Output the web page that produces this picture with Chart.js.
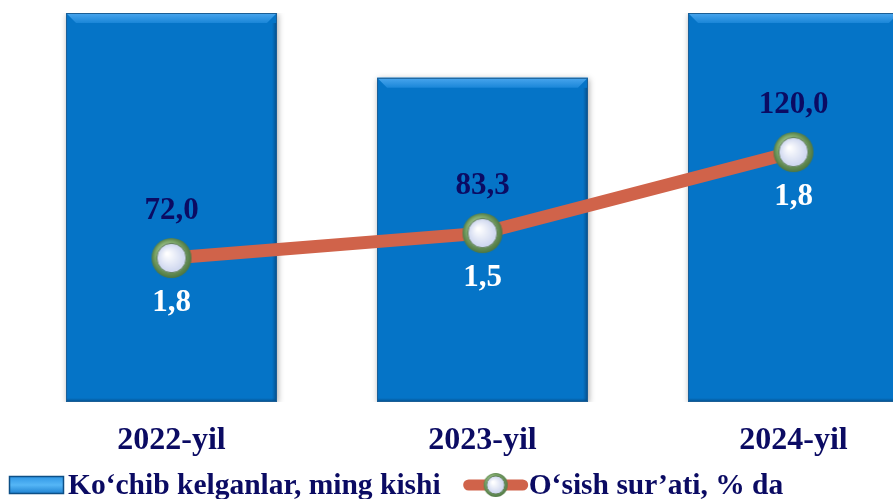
<!DOCTYPE html>
<html>
<head>
<meta charset="utf-8">
<script src="https://cdn.jsdelivr.net/npm/chart.js@4.4.1/dist/chart.umd.min.js"></script>
<style>
    html, body { margin: 0; padding: 0; background: #fff; overflow: hidden; }
    #wrap { width: 960px; height: 499px; }
</style>
</head>
<body>
<div id="wrap"><canvas id="myChart" width="960" height="499"></canvas></div>
<script>
var years = ['2022-yil', '2023-yil', '2024-yil'];
var migrants = [1.8, 1.5, 1.8];
var growth = [72.0, 83.3, 120.0];
var seriesNames = ['Ko‘chib kelganlar, ming kishi', 'O‘sish sur’ati, % da'];

var navy = '#0b0b63';
var barBlue = '#0574c7';
var lineRed = '#d0634a';
var serif = "'Liberation Serif', 'Times New Roman', serif";

function fmt(v) {
    return v.toFixed(1).replace('.', ',');
}

function makeMarker(size) {
    var c = document.createElement('canvas');
    c.width = c.height = size;
    var g = c.getContext('2d');
    var r = size / 2;
    var grad = g.createRadialGradient(r * 0.7, r * 0.6, 1, r, r, r);
    grad.addColorStop(0, '#c2dcb0');
    grad.addColorStop(0.65, '#7aa466');
    grad.addColorStop(1, '#48703e');
    g.beginPath();
    g.arc(r, r, r - 1, 0, Math.PI * 2);
    g.fillStyle = grad;
    g.fill();
    var ir = r * 0.7;
    var ig = g.createRadialGradient(r - ir * 0.3, r - ir * 0.3, 1, r, r, ir);
    ig.addColorStop(0, '#ffffff');
    ig.addColorStop(1, '#cbd4ee');
    g.beginPath();
    g.arc(r, r, ir, 0, Math.PI * 2);
    g.fillStyle = ig;
    g.fill();
    g.strokeStyle = '#5c7d52';
    g.lineWidth = 1;
    g.stroke();
    return c;
}

var bigMarker = makeMarker(42);
var smallMarker = makeMarker(26);

// bevel on a bar-like rectangle
function drawBevel(ctx, left, top, right, bottom) {
    var b = 10;
    ctx.save();
    var tg = ctx.createLinearGradient(0, top, 0, top + b);
    tg.addColorStop(0, '#4aa6ee');
    tg.addColorStop(1, '#1a86d8');
    ctx.fillStyle = tg;
    ctx.beginPath();
    ctx.moveTo(left, top);
    ctx.lineTo(right, top);
    ctx.lineTo(right - b, top + b);
    ctx.lineTo(left + b, top + b);
    ctx.closePath();
    ctx.fill();
    var rg = ctx.createLinearGradient(right - 5, 0, right, 0);
    rg.addColorStop(0, 'rgba(5,80,140,0)');
    rg.addColorStop(1, 'rgba(5,70,125,0.9)');
    ctx.fillStyle = rg;
    ctx.fillRect(right - 5, top + b, 5, bottom - top - b);
    var bg = ctx.createLinearGradient(0, bottom - 4, 0, bottom);
    bg.addColorStop(0, 'rgba(5,80,140,0)');
    bg.addColorStop(1, 'rgba(5,70,125,0.9)');
    ctx.fillStyle = bg;
    ctx.fillRect(left, bottom - 4, right - left, 4);
    ctx.strokeStyle = '#1b5f96';
    ctx.lineWidth = 1;
    ctx.strokeRect(left + 0.5, top + 0.5, right - left - 1, bottom - top - 1);
    ctx.restore();
}

var barLook = {
    id: 'barLook',
    beforeDatasetDraw: function (chart, args) {
        if (args.index !== 1) return;
        var ctx = chart.ctx;
        ctx.save();
        ctx.shadowColor = 'rgba(0,0,0,0.35)';
        ctx.shadowBlur = 6;
        ctx.shadowOffsetX = 1;
        ctx.shadowOffsetY = 1;
    },
    afterDatasetDraw: function (chart, args) {
        if (args.index !== 1) return;
        var ctx = chart.ctx;
        ctx.restore();
        args.meta.data.forEach(function (el) {
            var w = el.width / 2;
            drawBevel(ctx, el.x - w, el.y, el.x + w, el.base);
        });
    }
};

var valueLabels = {
    id: 'valueLabels',
    afterDatasetsDraw: function (chart) {
        var ctx = chart.ctx;
        var lineMeta = chart.getDatasetMeta(0);
        var barMeta = chart.getDatasetMeta(1);
        ctx.save();
        ctx.font = 'bold 31px ' + serif;
        ctx.textAlign = 'center';
        ctx.textBaseline = 'middle';
        lineMeta.data.forEach(function (pt, i) {
            ctx.fillStyle = navy;
            ctx.fillText(fmt(growth[i]), pt.x, pt.y - 47);
            ctx.fillStyle = '#ffffff';
            ctx.fillText(fmt(migrants[i]), barMeta.data[i].x, pt.y + 45);
        });
        ctx.restore();
    }
};

var legendBar = {
    id: 'legendBar',
    afterDraw: function (chart) {
        var ctx = chart.ctx;
        var y = 485;
        var x = 9;
        ctx.save();
        ctx.font = 'bold 29.5px ' + serif;
        ctx.textBaseline = 'middle';
        ctx.textAlign = 'left';
        var g = ctx.createLinearGradient(0, y - 9, 0, y + 9);
        g.addColorStop(0, '#2e95e4');
        g.addColorStop(0.5, '#55b6f6');
        g.addColorStop(1, '#1c7fcf');
        ctx.fillStyle = g;
        ctx.fillRect(x, y - 9, 55, 18);
        ctx.strokeStyle = '#0d4f86';
        ctx.lineWidth = 1.5;
        ctx.strokeRect(x + 0.5, y - 8.5, 54, 17);
        x += 59;
        ctx.fillStyle = navy;
        ctx.fillText(seriesNames[0], x, y + 1);
        x += ctx.measureText(seriesNames[0]).width + 23;
        ctx.strokeStyle = lineRed;
        ctx.lineWidth = 11;
        ctx.lineCap = 'round';
        ctx.beginPath();
        ctx.moveTo(x + 5, y);
        ctx.lineTo(x + 59, y);
        ctx.stroke();
        ctx.drawImage(smallMarker, x + 32 - 13, y - 13);
        x += 65;
        ctx.fillStyle = navy;
        ctx.fillText(seriesNames[1], x, y + 1);
        ctx.restore();
    }
};

var ctx = document.getElementById('myChart').getContext('2d');
new Chart(ctx, {
    data: {
        labels: years,
        datasets: [
            {
                type: 'line',
                label: seriesNames[1],
                data: growth,
                yAxisID: 'y2',
                borderColor: lineRed,
                borderWidth: 13,
                tension: 0,
                pointStyle: bigMarker,
                pointRadius: 21,
                order: 0
            },
            {
                type: 'bar',
                label: seriesNames[0],
                data: migrants,
                yAxisID: 'y',
                backgroundColor: barBlue,
                borderWidth: 0,
                categoryPercentage: 1,
                barPercentage: 0.678,
                order: 1
            }
        ]
    },
    options: {
        responsive: false,
        animation: false,
        layout: { autoPadding: false, padding: { left: 16, right: 11, top: 13, bottom: 40 } },
        plugins: {
            legend: { display: false },
            tooltip: { enabled: false }
        },
        scales: {
            x: {
                grid: { display: false, drawTicks: false },
                border: { display: false },
                ticks: {
                    color: navy,
                    padding: 20,
                    font: { family: serif, size: 32, weight: 'bold' }
                },
                afterFit: function (scale) { scale.height = 57; }
            },
            y: {
                display: false,
                min: 0,
                max: 1.8
            },
            y2: {
                display: false,
                min: 6.8,
                max: 183
            }
        }
    },
    plugins: [barLook, valueLabels, legendBar]
});
</script>
</body>
</html>
